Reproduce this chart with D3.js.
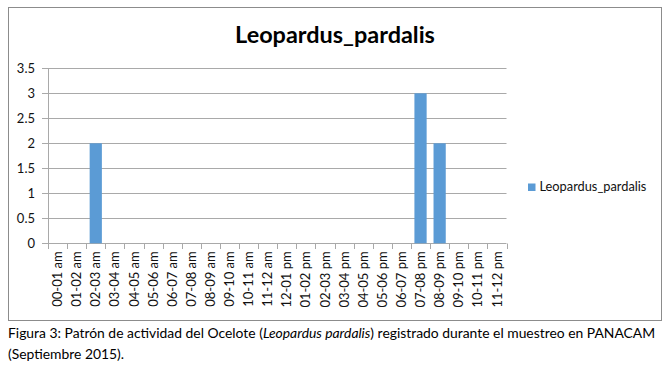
<!DOCTYPE html>
<html>
<head>
<meta charset="utf-8">
<script src="https://cdn.jsdelivr.net/npm/d3@7"></script>
<style>
  html, body { margin: 0; padding: 0; background: #fff; }
  svg { display: block; font-family: Lato, "Open Sans", sans-serif; }
</style>
</head>
<body>
<svg id="chart" width="665" height="368"></svg>
<script>
const categories = ["00-01 am","01-02 am","02-03 am","03-04 am","04-05 am","05-06 am","06-07 am","07-08 am","08-09 am","09-10 am","10-11 am","11-12 am","12-01 pm","01-02 pm","02-03 pm","03-04 pm","04-05 pm","05-06 pm","06-07 pm","07-08 pm","08-09 pm","09-10 pm","10-11 pm","11-12 pm"];
const values = [0,0,2,0,0,0,0,0,0,0,0,0,0,0,0,0,0,0,0,3,2,0,0,0];
const yTicks = [0,0.5,1,1.5,2,2.5,3,3.5];
const yTickLabels = ["0","0.5","1","1.5","2","2.5","3","3.5"];
const seriesName = "Leopardus_pardalis";
const titleText = "Leopardus_pardalis";
const captionLine1 = [
  {t: "Figura 3: Patrón de actividad del Ocelote (", i: false},
  {t: "Leopardus pardalis", i: true},
  {t: ") registrado durante el muestreo en PANACAM", i: false}
];
const captionLine2 = "(Septiembre 2015).";

const svg = d3.select("#chart");
const barColor = "#5B9BD5";

// outer chart border
svg.append("rect")
  .attr("x", 8.5).attr("y", 7.5)
  .attr("width", 653).attr("height", 313)
  .attr("fill", "#fff").attr("stroke", "#8c8c8c").attr("stroke-width", 1);

const plot = {left: 48, right: 506.5, top: 68.3, bottom: 243.3};

const y = d3.scaleLinear().domain([0, 3.5]).range([plot.bottom, plot.top]);
const xBar = d3.scaleBand().domain(categories)
  .range([plot.left, plot.right]).paddingInner(0.36).paddingOuter(0.18);
const step = xBar.step();

// gridlines
svg.append("g").selectAll("line").data(yTicks).join("line")
  .attr("x1", plot.left - 6).attr("x2", plot.right)
  .attr("y1", d => Math.round(y(d)) + 0.5).attr("y2", d => Math.round(y(d)) + 0.5)
  .attr("stroke", "#a9a9a9").attr("stroke-width", 1);

// y axis line
svg.append("line")
  .attr("x1", plot.left + 0.5).attr("x2", plot.left + 0.5)
  .attr("y1", Math.round(y(3.5)) + 0.5).attr("y2", Math.round(y(0)) + 0.5)
  .attr("stroke", "#a9a9a9");

// y labels
svg.append("g").selectAll("text").data(yTicks).join("text")
  .attr("x", 35).attr("y", d => y(d))
  .attr("dy", "0.35em").attr("text-anchor", "end")
  .attr("font-size", 13).attr("fill", "#111")
  .text((d, i) => yTickLabels[i]);

// bars
svg.append("g").selectAll("rect").data(categories).join("rect")
  .attr("x", d => xBar(d))
  .attr("width", xBar.bandwidth())
  .attr("y", (d, i) => y(values[i]))
  .attr("height", (d, i) => y(0) - y(values[i]))
  .attr("fill", barColor);

// x ticks
const tickIdx = d3.range(categories.length + 1);
svg.append("g").selectAll("line").data(tickIdx).join("line")
  .attr("x1", i => Math.round(plot.left + i * step) + 0.5)
  .attr("x2", i => Math.round(plot.left + i * step) + 0.5)
  .attr("y1", Math.round(y(0)) + 0.5).attr("y2", Math.round(y(0)) + 6)
  .attr("stroke", "#a9a9a9");

// x labels (rotated)
svg.append("g").selectAll("text").data(categories).join("text")
  .attr("transform", d => `translate(${xBar(d) + xBar.bandwidth() / 2},${plot.bottom + 8}) rotate(-90)`)
  .attr("text-anchor", "end").attr("dy", "0.35em")
  .attr("font-size", 13).attr("fill", "#111")
  .text(d => d);

// title
const title = svg.append("text")
  .attr("x", 335).attr("y", 43)
  .attr("text-anchor", "middle")
  .attr("font-weight", "bold").attr("font-size", 22).attr("fill", "#000")
  .text(titleText);
{
  const w = title.node().getComputedTextLength();
  title.attr("font-size", 22 * 200 / w);
}

// legend
svg.append("rect").attr("x", 528).attr("y", 183.5).attr("width", 7.5).attr("height", 7.5).attr("fill", barColor);
const leg = svg.append("text").attr("x", 539.5).attr("y", 191)
  .attr("font-size", 12).attr("fill", "#111").text(seriesName);
{
  const w = leg.node().getComputedTextLength();
  leg.attr("font-size", 12 * 107 / w);
}

// caption
const cap1 = svg.append("text").attr("x", 8).attr("y", 338).attr("font-size", 14).attr("fill", "#000");
cap1.selectAll("tspan").data(captionLine1).join("tspan")
  .attr("font-style", d => d.i ? "italic" : "normal")
  .text(d => d.t);
const w1 = cap1.node().getComputedTextLength();
const capSize = 14 * 648 / w1;
cap1.attr("font-size", capSize);
svg.append("text").attr("x", 8).attr("y", 359).attr("font-size", capSize).attr("fill", "#000").text(captionLine2);
</script>
</body>
</html>
